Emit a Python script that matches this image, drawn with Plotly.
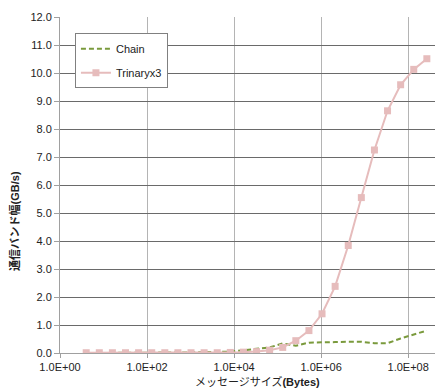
import plotly.graph_objects as go

exponents = list(range(2, 29))
sizes = [2 ** k for k in exponents]

chain = [0.0, 0.0, 0.0, 0.01, 0.01, 0.01, 0.02, 0.02, 0.02, 0.03, 0.04, 0.05,
         0.10, 0.15, 0.20, 0.34, 0.26, 0.37, 0.39, 0.39, 0.40, 0.40, 0.35, 0.35,
         0.52, 0.65, 0.80]
trinaryx3 = [0.01, 0.01, 0.01, 0.01, 0.01, 0.01, 0.01, 0.01, 0.01, 0.01, 0.01,
             0.02, 0.03, 0.05, 0.10, 0.20, 0.44, 0.80, 1.40, 2.38, 3.84, 5.55,
             7.25, 8.65, 9.58, 10.13, 10.51]

x_tickvals = [1, 1e2, 1e4, 1e6, 1e8]
x_ticktext = ["1.0E+00", "1.0E+02", "1.0E+04", "1.0E+06", "1.0E+08"]
y_tickvals = list(range(0, 13))
y_ticktext = [f"{v:.1f}" for v in y_tickvals]

x_title = "メッセージサイズ<b>(Bytes)</b>"
y_title = "<b>通信バンド幅(GB/s)</b>"

fig = go.Figure()
fig.add_trace(go.Scatter(
    x=sizes, y=chain, name="Chain", mode="lines", legendgroup="a",
    line=dict(color="#7a9a3c", width=2, dash="5px,3px"),
))
fig.add_trace(go.Scatter(
    x=sizes, y=trinaryx3, name="Trinaryx3", mode="lines+markers", legendgroup="b",
    line=dict(color="#e6bcbc", width=2),
    marker=dict(symbol="square", size=7, color="#e6bcbc"),
))

# page body has an 8px default margin, so the figure is sized to fit the window
fig.update_layout(
    width=435, height=384,
    margin=dict(l=52, r=0, t=9, b=39, autoexpand=False),
    plot_bgcolor="white", paper_bgcolor="white",
    font=dict(family="Liberation Sans, Arial, Noto Sans CJK JP", size=11, color="#222"),
    showlegend=True,
    legend=dict(
        x=0.039, y=0.952, xanchor="left", yanchor="top",
        bgcolor="white", bordercolor="#808080", borderwidth=1,
        font=dict(size=11, color="#222"), tracegroupgap=5,
    ),
    xaxis=dict(
        type="log", range=[0, 8.8], automargin=False,
        tickvals=x_tickvals, ticktext=x_ticktext,
        showgrid=True, gridcolor="#b4b4b4", gridwidth=1,
        showline=True, linecolor="#a0a0a0", linewidth=1,
        ticks="outside", ticklen=4, tickcolor="#a0a0a0",
        zeroline=False,
    ),
    yaxis=dict(
        range=[0, 12], automargin=False,
        tickvals=y_tickvals, ticktext=y_ticktext,
        showgrid=True, gridcolor="#6a6a6a", gridwidth=1,
        showline=True, linecolor="#a0a0a0", linewidth=1,
        ticks="outside", ticklen=5, tickcolor="#a0a0a0",
        zeroline=False,
    ),
    annotations=[
        dict(text=x_title, xref="paper", yref="paper", x=(257 - 60) / 383,
             y=-(381 - 353) / 336, xanchor="center", yanchor="middle",
             showarrow=False, font=dict(size=11, color="#222")),
        dict(text=y_title, xref="paper", yref="paper", x=-(60 - 14) / 383,
             y=(353 - 221) / 336, xanchor="center", yanchor="middle",
             textangle=-90, showarrow=False, font=dict(size=11, color="#222")),
    ],
)

fig.write_html("out.html")
